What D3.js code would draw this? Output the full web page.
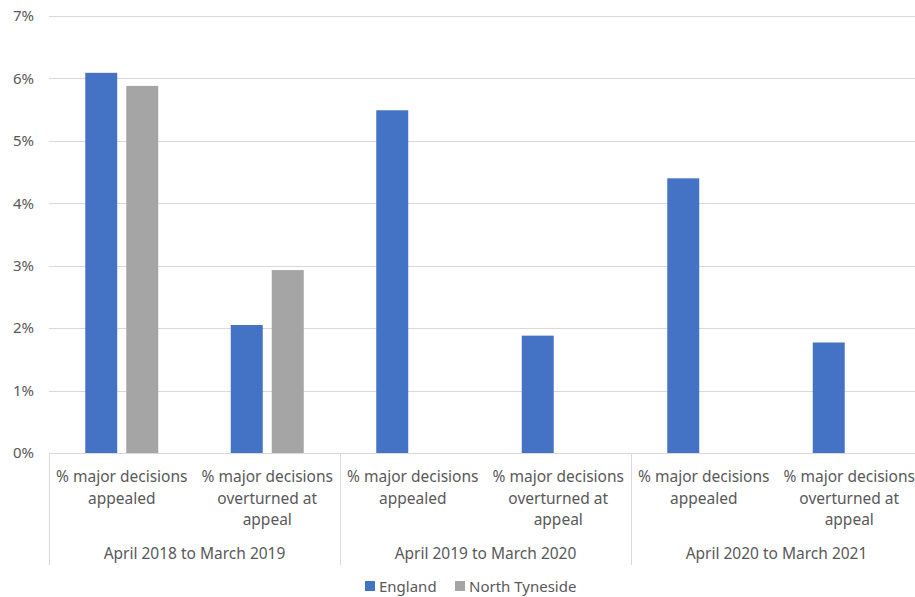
<!DOCTYPE html>
<html><head><meta charset="utf-8">
<script src="https://cdn.jsdelivr.net/npm/d3@7"></script>
<style>body{margin:0;background:#fff}svg{display:block}text{font-family:"Noto Sans",sans-serif;fill:#595959}</style>
</head><body><svg id="c" width="915" height="597"></svg>
<script>
const periods = ["April 2018 to March 2019","April 2019 to March 2020","April 2020 to March 2021"];
const measures = [["% major decisions","appealed"],["% major decisions","overturned at","appeal"]];
const seriesNames = ["England","North Tyneside"];
const englandValues = [6.09, 2.05, 5.49, 1.88, 4.40, 1.77];
const northTynesideValues = [5.88, 2.93, null, null, null, null];
const yTicks = [0,1,2,3,4,5,6,7];
const colors = ["#4472C4","#A5A5A5"];

const svg = d3.select("#c");
const cats = [];
periods.forEach((p,pi)=>measures.forEach((m,mi)=>cats.push({p:pi,m:mi,label:m,key:pi+"-"+mi})));
const x0 = d3.scaleBand().domain(cats.map(c=>c.key)).range([49,922]).paddingInner(0).paddingOuter(0);
const pScale = d3.scaleBand().domain(periods).range([49,922]);
const y = d3.scaleLinear().domain([0,7]).range([453,16]);
const x1 = d3.scaleBand().domain(seriesNames).range([0,x0.bandwidth()]).paddingInner(0.22).paddingOuter(0.884);

// grid
svg.append("g").selectAll("line").data(yTicks).join("line")
 .attr("x1",49).attr("x2",915).attr("y1",d=>Math.round(y(d))+0.5).attr("y2",d=>Math.round(y(d))+0.5)
 .attr("stroke","#D9D9D9").attr("stroke-width",1);
svg.append("g").selectAll("text").data(yTicks).join("text")
 .attr("x",34).attr("y",d=>y(d)).attr("dy","0.35em").attr("text-anchor","end")
 .style("font-size","15px").text(d=>d+"%");

// bars
const data = [];
cats.forEach((c,i)=>{
  data.push({cat:c.key,s:"England",v:englandValues[i]});
  if(northTynesideValues[i]!=null) data.push({cat:c.key,s:"North Tyneside",v:northTynesideValues[i]});
});
svg.append("g").selectAll("rect").data(data).join("rect")
 .attr("x",d=>x0(d.cat)+x1(d.s)).attr("width",x1.bandwidth())
 .attr("y",d=>y(d.v)).attr("height",d=>y(0)-y(d.v))
 .attr("fill",d=>colors[seriesNames.indexOf(d.s)]);

// category separators
svg.append("g").selectAll("line").data(periods).join("line")
 .attr("x1",d=>Math.round(pScale(d))+0.5).attr("x2",d=>Math.round(pScale(d))+0.5)
 .attr("y1",453).attr("y2",565).attr("stroke","#D9D9D9");

// category labels
const lab = svg.append("g").selectAll("text").data(cats).join("text")
 .attr("text-anchor","middle").style("font-size","15.5px");
lab.each(function(c){
  const t=d3.select(this); const cx=x0(c.key)+x0.bandwidth()/2;
  c.label.forEach((l,i)=>t.append("tspan").attr("x",cx).attr("y",482+i*21.5).text(l));
});
svg.append("g").selectAll("text").data(periods).join("text")
 .attr("x",d=>pScale(d)+pScale.bandwidth()/2).attr("y",559).attr("text-anchor","middle")
 .style("font-size","15.5px").text(d=>d);
// legend
const leg = svg.append("g");
const legX=[365,455];
seriesNames.forEach((s,i)=>{
  leg.append("rect").attr("x",legX[i]).attr("y",581).attr("width",10).attr("height",10).attr("fill",colors[i]);
  leg.append("text").attr("x",legX[i]+14).attr("y",591.5).style("font-size","15px").text(s);
});
</script></body></html>
